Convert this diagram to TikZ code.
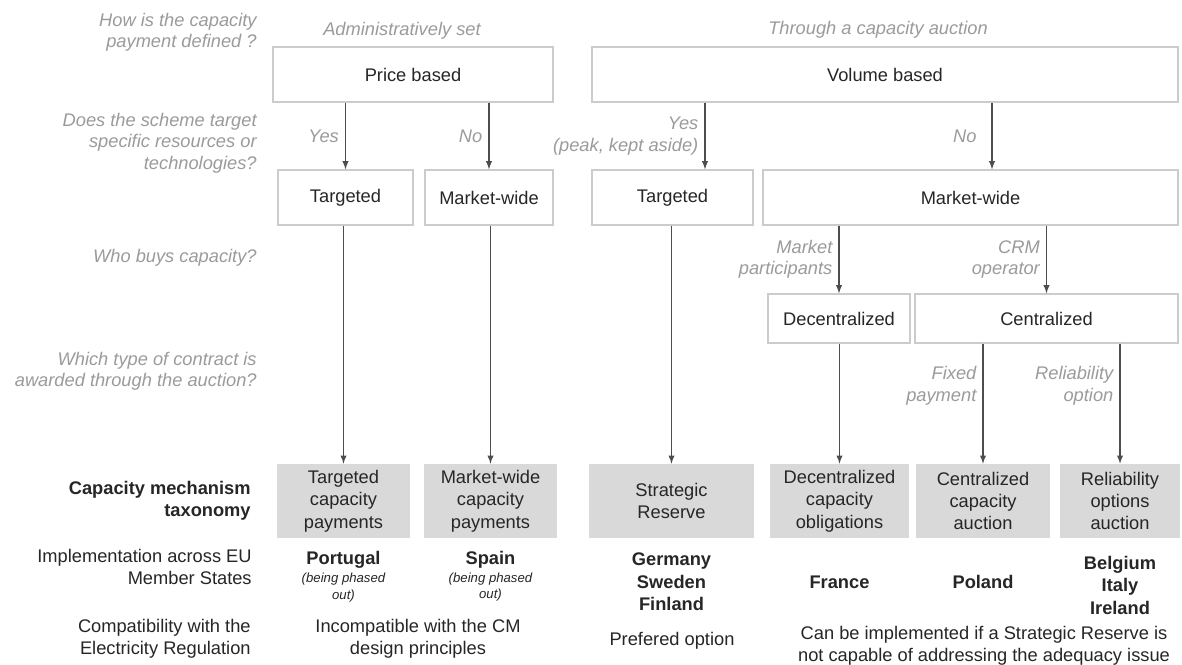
\documentclass[tikz,border=0pt]{standalone}
\usepackage{fontspec}
\setmainfont{Liberation Sans}
\usetikzlibrary{positioning}
\definecolor{line-gray}{HTML}{CCCCCC}
\definecolor{fill-gray}{HTML}{D9D9D9}
\definecolor{label-gray}{HTML}{9B9B9B}
\definecolor{arrow-gray}{HTML}{4D4D4D}
\definecolor{text-black}{HTML}{262626}

\begin{document}
\begin{tikzpicture}[x=0.02cm, y=-0.02cm,
  font=\fontsize{10.4}{12.6}\selectfont, text=text-black,
  text only/.style={inner sep=0pt, align=center},
  question/.style={text only, align=right, anchor=east, text=label-gray,
    font=\fontsize{10.4}{12.2}\selectfont\itshape},
  answer/.style={question, xshift=-3.5pt},
  heading/.style={text only, text=label-gray, font=\fontsize{10.4}{12.2}\selectfont\itshape},
  row head/.style={text only, align=right, anchor=east},
  choice/.style 2 args={draw=line-gray, line width=0.8pt, fill=white, inner sep=0pt,
    align=center, minimum width=#1*0.02cm, minimum height=#2*0.02cm},
  mechanism/.style={fill=fill-gray, inner sep=0pt, align=center,
    font=\fontsize{10.4}{12.7}\selectfont, minimum height=74*0.02cm},
  states/.style={text only, font=\fontsize{10.4}{12.8}\selectfont\bfseries},
  note/.style={text only, font=\fontsize{7.5}{9.5}\selectfont\itshape},
  flow/.style={-latex, draw=arrow-gray, line width=0.6pt}]
\useasboundingbox[fill=white] (0, 0) rectangle (1182, 664);
\node[question]
  (how)
  at (257, 32)
  {How is the capacity\\payment defined ?};
\node[question]
  (target)
  at (257, 143)
  {Does the scheme target\\specific resources or\\technologies?};
\node[question]
  (who)
  at (257, 258)
  {Who buys capacity?};
\node[question]
  (which)
  at (257, 371)
  {Which type of contract is\\awarded through the auction?};
\node[row head, font=\fontsize{10.4}{12.6}\selectfont\bfseries]
  (taxonomy)
  at (251, 501)
  {Capacity mechanism\\taxonomy};
\node[row head]
  (member)
  at (252, 567)
  {Implementation across EU\\Member States};
\node[row head]
  (compat)
  at (251, 639)
  {Compatibility with the\\Electricity Regulation};
\node[heading]
  (admin)
  at (402, 31)
  {Administratively set};
\node[heading]
  (auction)
  at (878, 30)
  {Through a capacity auction};
\node[choice={280}{55}]
  (price)
  at (413, 74.5)
  {Price based};
\node[choice={586}{55}]
  (volume)
  at (885, 74.5)
  {Volume based};
\node[choice={135}{55}]
  (targeted-p)
  at (345.5, 197.5)
  {Targeted};
\node[choice={128}{55}]
  (wide-p)
  at (489, 197.5)
  {Market-wide};
\node[choice={161}{55}]
  (targeted-v)
  at (672.5, 197.5)
  {Targeted};
\node[choice={415}{55}]
  (wide-v)
  at (970.5, 197.5)
  {Market-wide};
\node[choice={142}{49}]
  (decentral)
  at (839, 318.5)
  {Decentralized};
\node[choice={263}{49}]
  (central)
  at (1046.5, 318.5)
  {Centralized};
\foreach \name/\x/\w/\phrase in {
    tcp/343.5/133/Targeted\\capacity\\payments,
    mcp/490.5/133/Market-wide\\capacity\\payments,
    sr/671.5/165/Strategic\\Reserve,
    dco/839.5/139/Decentralized\\capacity\\obligations,
    cca/983/134/Centralized\\capacity\\auction,
    roa/1120/120/Reliability\\options\\auction} {
  \node[mechanism, minimum width=\w*0.02cm]
    (mech-\name)
    at (\x, 501)
    {\phrase};
}
\foreach \name/\y/\country in {
    tcp/560/Portugal,
    mcp/560/Spain,
    sr/582/Germany\\Sweden\\Finland,
    dco/582/France,
    cca/582/Poland,
    roa/585/Belgium\\Italy\\Ireland} {
  \node[states]
    (states-\name)
    at (mech-\name.center |- 0, \y)
    {\country};
}
\foreach \name in {tcp, mcp} {
  \node[note, below=2pt of states-\name]
    (phase-\name)
    {(being phased\\out)};
}
\node[text only]
  (incompatible)
  at (418, 639)
  {Incompatible with the CM\\design principles};
\node[text only]
  (preferred)
  at (672, 641)
  {Prefered option};
\node[text only]
  (conditional)
  at (984, 646)
  {Can be implemented if a Strategic Reserve is\\not capable of addressing the adequacy issue};
\coordinate (yes-peak) at (705, 170);
\coordinate (no-volume) at (992, 170);
\draw[flow] (price.south -| targeted-p.north) -- (targeted-p.north)
  node[answer, midway] {Yes};
\draw[flow] (price.south -| wide-p.north) -- (wide-p.north)
  node[answer, midway] {No};
\draw[flow] (volume.south -| yes-peak) -- (targeted-v.north -| yes-peak)
  node[answer, midway] {Yes\\(peak, kept aside)};
\draw[flow] (volume.south -| no-volume) -- (wide-v.north -| no-volume)
  node[answer, midway, xshift=-5pt] {No};
\draw[flow] (wide-v.south -| decentral.north) -- (decentral.north)
  node[answer, midway] {Market\\participants};
\draw[flow] (wide-v.south -| central.north) -- (central.north)
  node[answer, midway] {CRM\\operator};
\draw[flow] (targeted-p.south -| mech-tcp.north) -- (mech-tcp.north);
\draw[flow] (wide-p.south -| mech-mcp.north) -- (mech-mcp.north);
\draw[flow] (targeted-v.south -| mech-sr.north) -- (mech-sr.north);
\draw[flow] (decentral.south -| mech-dco.north) -- (mech-dco.north);
\draw[flow] (central.south -| mech-cca.north) -- (mech-cca.north)
  node[answer, pos=0.35] {Fixed\\payment};
\draw[flow] (central.south -| mech-roa.north) -- (mech-roa.north)
  node[answer, pos=0.35] {Reliability\\option};
\end{tikzpicture}
\end{document}
